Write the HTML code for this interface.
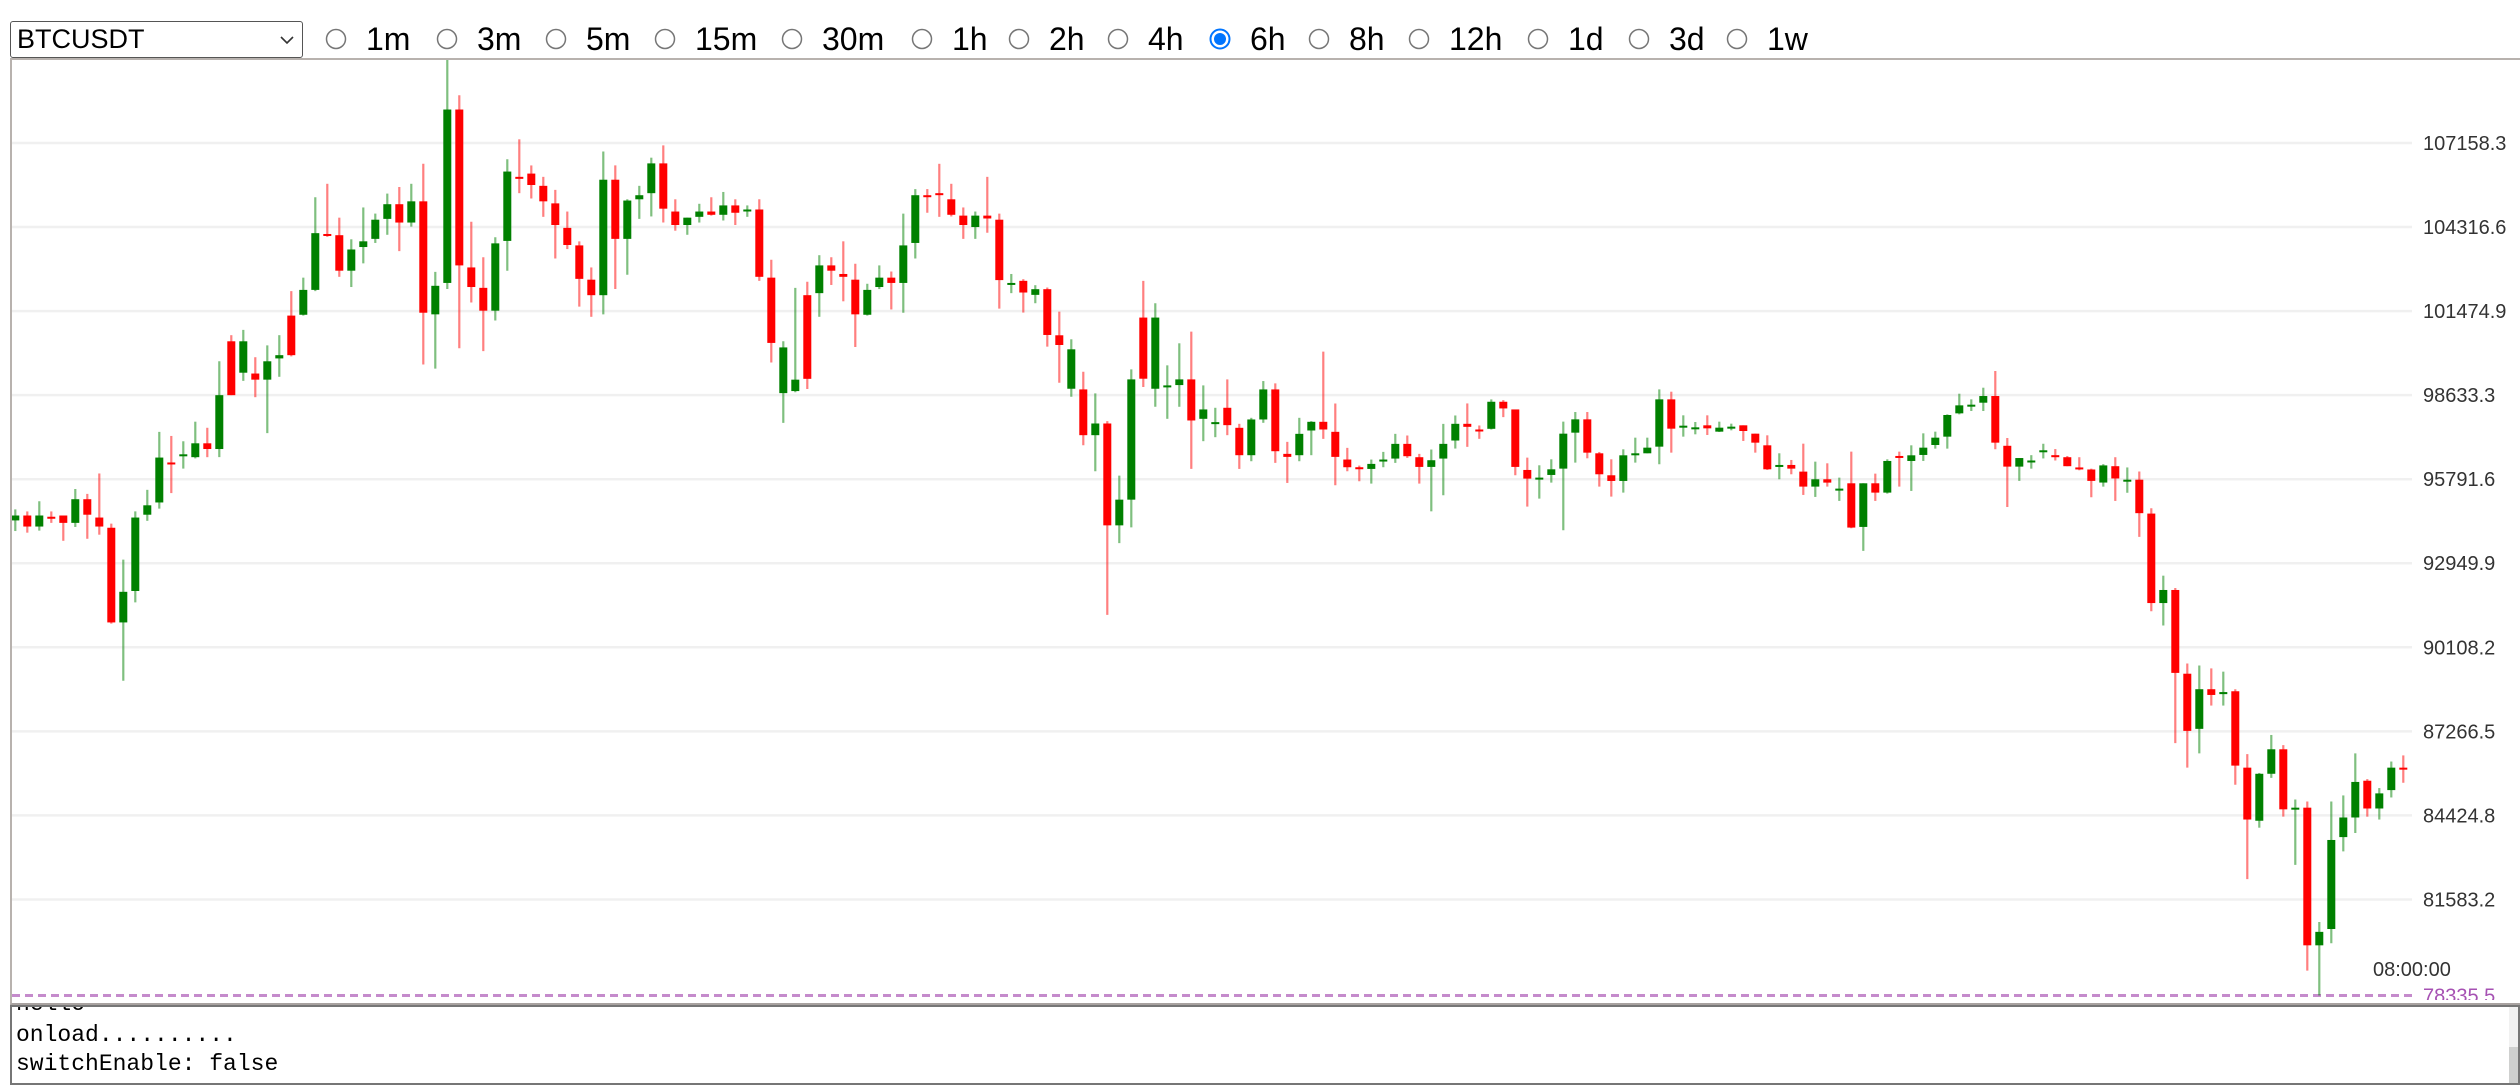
<!DOCTYPE html>
<html>
<head>
<meta charset="utf-8">
<style>
html,body{margin:0;padding:0;background:#fff;width:2520px;height:1090px;overflow:hidden;font-family:"Liberation Sans",sans-serif;}
#symbol-select{position:absolute;left:10px;top:21px;width:291px;height:35px;border:1.5px solid #555;border-radius:3px;background:#fff;}
#symbol-select span{position:absolute;left:6px;top:2px;font-size:27px;color:#000;}
.radio{position:absolute;top:21px;height:36px;}
.radio svg{position:absolute;left:0;top:7px;}
.radio span{position:absolute;left:41px;top:0;font-size:32px;color:#000;white-space:nowrap;line-height:36px;}
#chart-box{position:absolute;left:10px;top:58px;width:2510px;height:943px;border-left:2px solid #b8b2ae;border-top:2px solid #b8b2ae;border-bottom:2px solid #a8a2a0;}
#log-box{position:absolute;left:10px;top:1005px;width:2506px;height:76px;border:2px solid #767676;overflow:hidden;background:#fff;font-family:"Liberation Mono",monospace;font-size:23px;color:#000;}
#log-box .ln{position:absolute;left:4px;white-space:pre;}
#scrollbar{position:absolute;right:0;top:0;width:9px;height:76px;background:#f1f1f1;}
#thumb{position:absolute;right:0;top:40px;width:9px;height:36px;background:#cfd0cf;}
</style>
</head>
<body>
<div id="symbol-select"><span>BTCUSDT</span>
<svg style="position:absolute;left:268px;top:12px" width="16" height="12"><polyline points="2,3 8,9 14,3" fill="none" stroke="#333" stroke-width="1.6"/></svg></div>
<div id="radios"></div>

<div id="chart-box"></div>
<svg id="chart" width="2520" height="1090" style="position:absolute;left:0;top:0">
<defs><clipPath id="clip"><rect x="12" y="60" width="2508" height="940"/></clipPath></defs>
<g id="grid" clip-path="url(#clip)"></g>
<g id="candles" clip-path="url(#clip)"></g>
<g id="labels" clip-path="url(#clip)"></g>
</svg>

<div id="log-box">
<div class="ln" style="top:-16px">hello</div>
<div class="ln" style="top:15px">onload..........</div>
<div class="ln" style="top:44px">switchEnable: false</div>
<div id="scrollbar"><div id="thumb"></div></div>
</div>

<script>
const intervals=["1m","3m","5m","15m","30m","1h","2h","4h","6h","8h","12h","1d","3d","1w"];
const selectedInterval="6h";
const radioX=[336,447,556,665,792,922,1019,1118,1220,1319,1419,1538,1639,1737];

const yTicks=[107158.3,104316.6,101474.9,98633.3,95791.6,92949.9,90108.2,87266.5,84424.8,81583.2];
const lowMark=78335.5;
const timeLabel="08:00:00";

const opens=[94398,94564,94191,94522,94564,94315,95115,94495,94150,90949,92012,94591,95005,96357,96591,96536,97005,96812,100454,99392,99364,99157,99875,101323,101351,102192,104082,104041,102841,103641,103917,104593,105089,104469,105186,101365,102427,108290,102951,102261,101489,103848,106014,106124,105710,105117,104289,103696,102537,102013,105917,103917,105255,105462,106469,104841,104386,104662,104841,104731,105048,104855,104910,102606,98702,98771,102013,102082,103020,102730,102537,101351,102289,102606,102427,103779,105393,105462,105255,104703,104317,104703,104565,102385,102498,102024,102216,100657,98850,98827,97280,97675,94231,95100,101256,98850,98918,98974,99166,97833,97687,98206,97529,96603,97811,98827,96648,96603,97438,97732,97393,96456,96196,96139,96399,96489,96986,96535,96207,96489,97099,97664,97472,97495,98410,98150,96104,95811,95935,96149,97365,97815,96667,95924,95732,96622,96667,96892,98491,97568,97523,97613,97399,97545,97613,97331,96937,96239,96273,96048,95541,95789,95439,95653,94178,95653,95338,96577,96408,96611,96948,97230,98018,98277,98378,98604,96921,96217,96383,96728,96604,96535,96189,96120,95678,96231,95734,95775,94629,91604,92046,89215,87351,88691,88525,88622,86039,84244,85832,86660,84630,84686,80032,80584,83691,84354,85597,84658,85280,86039];
const highs=[94771,94702,95046,94702,94564,95460,95295,95985,94288,93074,94702,95432,97392,97254,97074,97736,97530,99778,100661,100840,99916,100316,100661,102151,102606,105324,105779,104634,103903,104979,104772,105448,105669,105779,106455,102799,110014,108773,104496,103296,103972,106607,107283,106400,106014,105572,104841,103834,102951,106869,106400,105255,105710,106662,107076,105255,104634,105103,105324,105503,105255,105048,105255,103213,100454,102261,102468,103365,103296,103834,103075,102399,103020,102813,104772,105600,105600,106455,105779,104979,104841,106014,104772,102730,102554,102351,102272,101459,100522,99426,98692,97754,95914,99505,102498,101741,99641,100386,100781,98963,98206,99166,97664,97867,99110,99031,97054,97867,97754,100104,98353,96851,96252,96456,96715,97325,97269,96648,96795,97664,97946,98353,97608,98489,98466,98150,96521,96262,96464,97737,98063,98063,96712,96464,96802,97196,97196,98829,98750,97951,97725,97951,97737,97669,97613,97331,97275,96667,96442,96993,96385,96329,95845,96723,95653,95980,96464,96723,96937,97342,97399,97984,98682,98491,98885,99448,97184,96507,96604,96990,96811,96576,96535,96148,96300,96535,96189,96051,94808,92530,92115,89561,89492,89395,89285,88691,86495,85860,87144,86799,84962,84893,80819,84893,85100,86522,85652,85349,86246,86453];
const lows=[94039,93984,94053,94315,93708,94177,93777,93915,90908,88977,91625,94384,94798,95322,96150,96495,96536,96536,98633,99116,98564,97350,99254,99944,101323,102151,103986,102634,102289,103089,103779,104055,103503,104330,99668,99530,102220,100220,101765,100123,101158,102841,105462,105282,104662,103255,103572,101627,101282,101365,102220,102703,104593,104675,104469,104193,104055,104469,104703,104538,104386,104662,102496,99737,97695,98730,98840,101282,102358,101806,100261,101323,102220,101530,101420,103255,104800,104662,104675,103917,103917,104124,101558,102082,101425,101741,100273,99053,98579,96941,96060,91204,93632,94163,98907,98240,97833,98240,96139,97077,97212,97280,96139,96399,97698,96343,95665,96399,96603,97156,95586,96060,95722,95643,96196,96343,96512,95643,94705,95247,96828,96885,97156,97472,97890,95925,94865,95135,95676,94066,96352,96498,95541,95203,95338,96352,96667,96295,96689,97230,97309,97286,97387,97444,97084,96689,96104,95789,95958,95259,95192,95541,95057,94133,93368,95057,95304,95541,95395,96408,96825,96825,97984,98097,98097,96802,94850,95734,96148,96493,96424,96231,96093,95181,95540,95057,95333,93842,91328,90845,86868,86039,86522,88138,88138,85459,82269,84009,85694,84382,82752,79176,78335.5,80101,83208,83829,84382,84285,85031,85528];
const closes=[94564,94191,94564,94481,94315,95115,94591,94191,90949,91984,94495,94909,96523,96302,96633,97005,96812,98633,98633,100454,99157,99778,99985,99985,102192,104110,104027,102841,103558,103834,104565,105089,104469,105186,101420,102330,108290,103020,102289,101489,103765,106193,105958,105738,105186,104386,103710,102565,102013,105917,103917,105213,105393,106469,104938,104386,104634,104841,104731,105048,104800,104910,102634,100399,100247,99157,99185,103020,102841,102634,101365,102192,102606,102427,103696,105393,105338,105407,104731,104386,104703,104606,102523,102427,102103,102216,100668,100329,100183,97280,97675,94231,95100,99166,99189,101256,98963,99166,97777,98150,97721,97619,96603,97811,98827,96738,96546,97325,97732,97472,96546,96196,96151,96309,96456,96986,96569,96207,96433,96986,97664,97562,97427,98410,98184,96207,95811,95845,96126,97331,97815,96689,95958,95732,96599,96667,96858,98491,97500,97601,97545,97511,97534,97568,97421,97027,96126,96273,96149,95541,95789,95676,95473,94156,95653,95338,96408,96532,96599,96858,97196,97962,98288,98311,98604,97027,96217,96507,96424,96769,96535,96231,96134,95734,96258,95816,95775,94643,91604,92046,89243,87282,88691,88497,88594,86108,84285,85832,86660,84630,84686,80032,80487,83594,84354,85556,84658,85169,86039,85998];

const NS="http://www.w3.org/2000/svg";
function yScale(p){return 143+(yTicks[0]-p)*84.05/2841.7;}
function xScale(i){return 15.3+12*i;}
function mk(tag,attrs,parent){const e=document.createElementNS(NS,tag);for(const k in attrs)e.setAttribute(k,attrs[k]);parent.appendChild(e);return e;}

const rc=document.getElementById('radios');
intervals.forEach((lab,i)=>{
  const d=document.createElement('div');
  d.className='radio';
  d.style.left=(radioX[i]-11)+'px';
  
  
  const checked=lab===selectedInterval;
  d.innerHTML='<svg width="22" height="22">'+(checked?
    '<circle cx="11" cy="11" r="9.5" fill="#fff" stroke="#0075ff" stroke-width="2"/><circle cx="11" cy="11" r="6" fill="#0075ff"/>':
    '<circle cx="11" cy="11" r="9.5" fill="#fff" stroke="#767676" stroke-width="1.5"/>')+'</svg><span>'+lab+'</span>';
  rc.appendChild(d);
});

const grid=document.getElementById('grid');
const labels=document.getElementById('labels');
yTicks.forEach(t=>{
  const y=yScale(t);
  const l=mk('line',{x1:12,x2:2412,y1:y,y2:y,stroke:'#f0f0f0','stroke-width':2.5},grid);
  
  
  const tx=mk('text',{x:2423,y:y+7,'font-size':20,fill:'#333','font-family':'Liberation Sans, sans-serif'},labels);
  tx.textContent=t.toFixed(1);
  
  
});
const yl=yScale(lowMark);
const dl=mk('line',{x1:12,x2:2412,y1:yl,y2:yl,stroke:'#c58bcc','stroke-width':3,'stroke-dasharray':'8,5'},grid);


const lt=mk('text',{x:2423,y:yl+7,'font-size':20,fill:'#a651b3','font-family':'Liberation Sans, sans-serif'},labels);
lt.textContent=lowMark.toFixed(1);


const tl=mk('text',{x:2373,y:976,'font-size':20,fill:'#333','font-family':'Liberation Sans, sans-serif'},labels);
tl.textContent=timeLabel;



const cg=document.getElementById('candles');
opens.forEach((o,i)=>{
  const c=closes[i],up=c>=o;
  const x=xScale(i);
  const wick=mk('line',{x1:x,x2:x,y1:yScale(highs[i]),y2:yScale(lows[i]),stroke:up?'rgba(0,128,0,0.5)':'rgba(255,0,0,0.5)','stroke-width':2.2},cg);
  
  
  const yt=yScale(Math.max(o,c)),yb=yScale(Math.min(o,c));
  const b=mk('rect',{x:x-4,y:yt,width:8,height:Math.max(2,yb-yt),fill:up?'#008000':'#ff0000'},cg);
  
  
});
</script>
</body>
</html>
